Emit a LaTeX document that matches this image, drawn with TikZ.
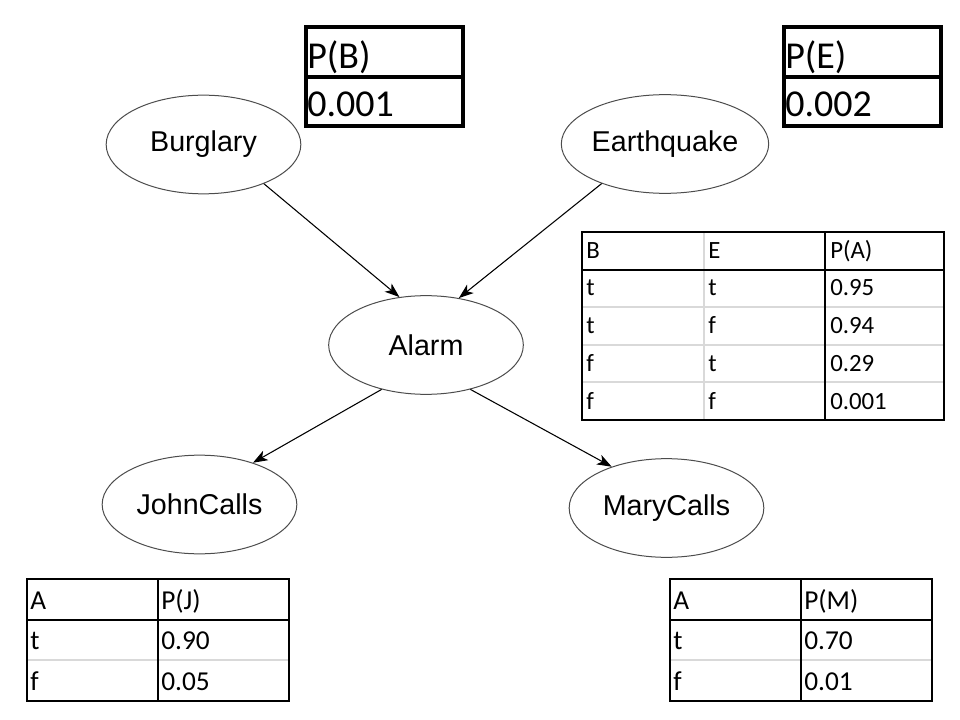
\documentclass[tikz,border=0pt]{standalone}
\usepackage{fontspec}
\setmainfont{Carlito}
\newfontfamily\arialfont{Liberation Sans}
\usetikzlibrary{shapes.geometric}
\usetikzlibrary{arrows.meta}

\tikzset{
  var/.style={ellipse, draw=black!70, line width=0.75pt, minimum width=146pt, minimum height=74pt, inner sep=0pt, font=\arialfont\fontsize{21.5}{24}\selectfont},
  edge/.style={-{Stealth[length=11pt,width=8pt,inset=3pt]}, line width=0.8pt},
  prior/.style={anchor=base west, inner sep=0pt, font=\fontsize{28.5}{30}\selectfont},
  cptbig/.style={anchor=base west, inner sep=0pt, font=\fontsize{18.6}{20}\selectfont},
  cptsmall/.style={anchor=base west, inner sep=0pt, font=\fontsize{20.5}{22}\selectfont},
  rule/.style={line width=1.6pt},
  thickrule/.style={line width=2.3pt},
  faint/.style={draw=black!15, line width=1.1pt}
}

\begin{document}
\begin{tikzpicture}[x=0.75pt,y=-0.75pt]
    \useasboundingbox (0,0) rectangle (960,720);

    %Nodes
    \node[var] (burglary) at (203.5,144.5) {Burglary};
    \node[var] (earthquake) at (665,144) {Earthquake};
    \node[var] (alarm) at (426,345) {Alarm};
    \node[var] (john) at (199.5,504.5) {JohnCalls};
    \node[var] (mary) at (666.5,508) {MaryCalls};

    %Edges
    \draw[edge] (burglary.-33) -- (alarm.119);
    \draw[edge] (earthquake.-148) -- (alarm.55.5);
    \draw[edge] (alarm.-135.6) -- (john.38.7);
    \draw[edge] (alarm.-45) -- (mary.143.2);

    % P(B) and P(E)
    \draw[thickrule] (306,27) rectangle (463,126);
    \draw[thickrule] (306,77) -- (463,77);
    \node[prior] (pbhead) at (307,69) {P(B)};
    \node[prior] (pbval) at (307,117) {0.001};
    \draw[thickrule] (784,27) rectangle (941,126);
    \draw[thickrule] (784,77) -- (941,77);
    \node[prior] (pehead) at (785,69) {P(E)};
    \node[prior] (peval) at (785,117) {0.002};

    % P(A|B,E)
    \draw[faint] (704,232) -- (704,420);
    \draw[faint] (582,307) -- (944,307);
    \draw[faint] (582,345) -- (944,345);
    \draw[faint] (582,382) -- (944,382);
    \draw[rule] (582,270) -- (944,270);
    \draw[rule] (825,232) -- (825,420);
    \draw[rule] (582,232) rectangle (944,420);
    \node[cptbig] (pab) at (586,259) {B};
    \node[cptbig] (pae) at (708,259) {E};
    \node[cptbig] (pap) at (830,259) {P(A)};
    \node[cptbig] (pab1) at (586,296) {t};
    \node[cptbig] (pae1) at (708,296) {t};
    \node[cptbig] (pap1) at (830,296) {0.95};
    \node[cptbig] (pab2) at (586,334) {t};
    \node[cptbig] (pae2) at (708,334) {f};
    \node[cptbig] (pap2) at (830,334) {0.94};
    \node[cptbig] (pab3) at (586,371) {f};
    \node[cptbig] (pae3) at (708,371) {t};
    \node[cptbig] (pap3) at (830,371) {0.29};
    \node[cptbig] (pab4) at (586,409) {f};
    \node[cptbig] (pae4) at (708,409) {f};
    \node[cptbig] (pap4) at (830,409) {0.001};

    % P(J|A)
    \draw[faint] (27,660) -- (289,660);
    \draw[rule] (27,620) -- (289,620);
    \draw[rule] (158,579) -- (158,701);
    \draw[rule] (27,579) rectangle (289,701);
    \node[cptsmall] (pja) at (30,609) {A};
    \node[cptsmall] (pjp) at (161,609) {P(J)};
    \node[cptsmall] (pja1) at (30,649) {t};
    \node[cptsmall] (pjp1) at (161,649) {0.90};
    \node[cptsmall] (pja2) at (30,690) {f};
    \node[cptsmall] (pjp2) at (161,690) {0.05};

    % P(M|A)
    \draw[faint] (670,660) -- (932,660);
    \draw[rule] (670,620) -- (932,620);
    \draw[rule] (801,579) -- (801,701);
    \draw[rule] (670,579) rectangle (932,701);
    \node[cptsmall] (pma) at (673,609) {A};
    \node[cptsmall] (pmp) at (804,609) {P(M)};
    \node[cptsmall] (pma1) at (673,649) {t};
    \node[cptsmall] (pmp1) at (804,649) {0.70};
    \node[cptsmall] (pma2) at (673,690) {f};
    \node[cptsmall] (pmp2) at (804,690) {0.01};
\end{tikzpicture}
\end{document}
